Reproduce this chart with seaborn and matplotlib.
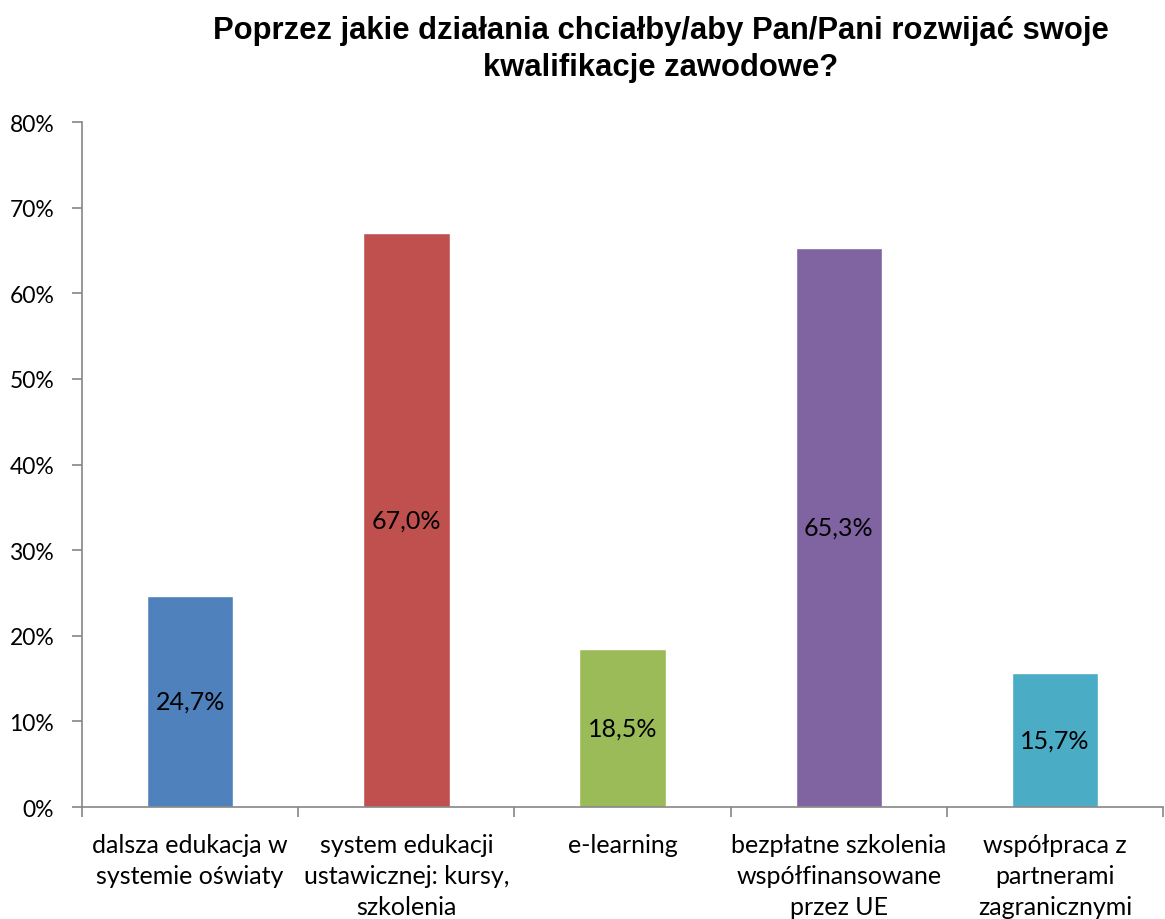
import matplotlib
matplotlib.use("Agg")
import matplotlib.pyplot as plt
import seaborn as sns
import pandas as pd
from matplotlib.ticker import FixedLocator, PercentFormatter

categories = [
    "dalsza edukacja w\nsystemie oświaty",
    "system edukacji\nustawicznej: kursy,\nszkolenia",
    "e-learning",
    "bezpłatne szkolenia\nwspółfinansowane\nprzez UE",
    "współpraca z\npartnerami\nzagranicznymi",
]
values = [24.7, 67.0, 18.5, 65.3, 15.7]
colors = ["#4F81BD", "#C0504D", "#9BBB59", "#8064A2", "#4BACC6"]
title = "Poprzez jakie działania chciałby/aby Pan/Pani rozwijać swoje\nkwalifikacje zawodowe?"

sns.set_style("white")
plt.rcParams["font.family"] = ["Lato", "DejaVu Sans"]
plt.rcParams["text.color"] = "black"
plt.rcParams["xtick.labelcolor"] = "black"
plt.rcParams["ytick.labelcolor"] = "black"

df = pd.DataFrame({"kat": categories, "val": values})

fig = plt.figure(figsize=(11.65, 9.2), dpi=100)
ax = fig.add_axes([0.0704, 0.1217, 0.928, 0.7446])

sns.barplot(data=df, x="kat", y="val", hue="kat", palette=colors,
            width=0.4, legend=False, ax=ax, saturation=1)

for i, v in enumerate(values):
    ax.text(i, v / 2, f"{v:.1f}%".replace(".", ","), ha="center", va="center",
            fontsize=18, color="black")

ax.set_ylim(0, 80)
ax.set_xlim(-0.5, len(categories) - 0.5)
ax.yaxis.set_major_locator(FixedLocator(range(0, 81, 10)))
ax.yaxis.set_major_formatter(PercentFormatter(decimals=0))
ax.set_xlabel("")
ax.set_ylabel("")

ax.xaxis.set_minor_locator(FixedLocator([i - 0.5 for i in range(len(categories) + 1)]))
ax.tick_params(axis="x", which="major", length=0, pad=19, labelsize=18)
ax.tick_params(axis="x", which="minor", length=7, width=1.2, color="#868686", direction="out", bottom=True)
ax.tick_params(axis="y", which="major", length=7, width=1.2, color="#868686", direction="out", left=True,
               labelsize=16.5, pad=13)
for lbl in ax.get_xticklabels():
    lbl.set_linespacing(1.42)

for side in ["top", "right"]:
    ax.spines[side].set_visible(False)
for side in ["left", "bottom"]:
    ax.spines[side].set_color("#868686")
    ax.spines[side].set_linewidth(1.2)

fig.text(0.567, 0.983, title, ha="center", va="top", fontsize=22.3, fontweight="bold",
         family=["Liberation Sans", "DejaVu Sans"], linespacing=1.32, color="black")

fig.savefig("out.png", dpi=100)
